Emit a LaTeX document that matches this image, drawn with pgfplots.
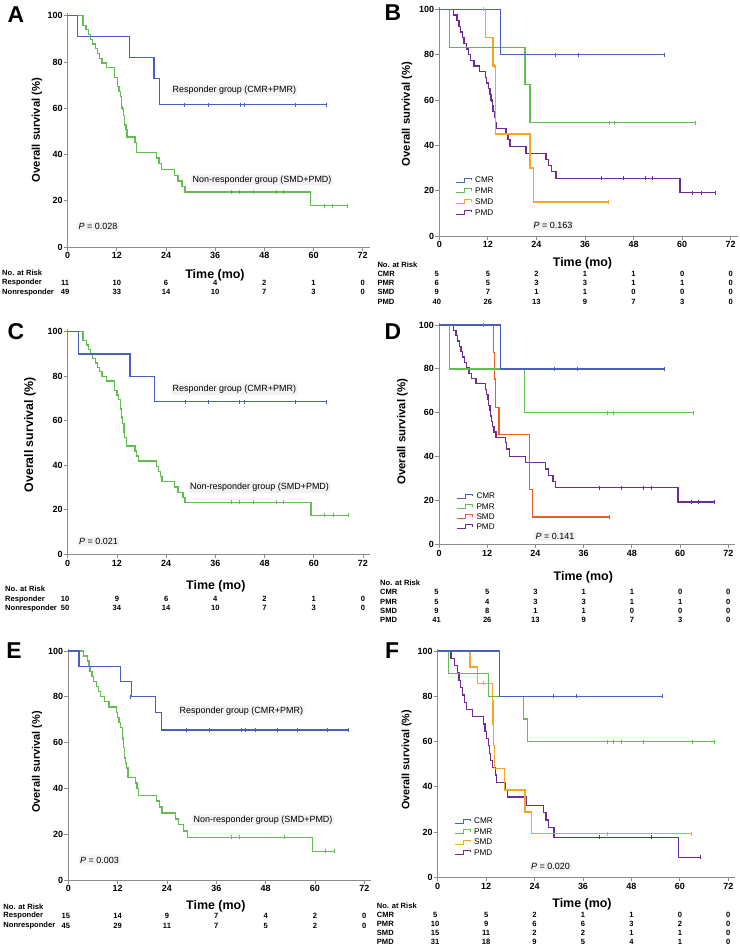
\documentclass[border=0pt]{standalone}
\usepackage{pgfplots}
\pgfplotsset{compat=1.18}
\usepackage{fontspec}
\setmainfont{Liberation Sans}
\definecolor{cblue}{RGB}{74,96,191}
\definecolor{cgreen}{RGB}{98,190,80}
\definecolor{corange}{RGB}{245,166,35}
\definecolor{cred}{RGB}{232,96,40}
\definecolor{cpurple}{RGB}{110,45,150}
\definecolor{axgray}{RGB}{140,140,140}
\newcommand\ticfont{\bfseries\fontsize{9}{10}\selectfont}
\pgfplotsset{
  km/.style={anchor=south west, xmin=0, xmax=73.7, ymin=0, ymax=101,
    axis lines=left, axis line style={-, draw=axgray, line width=0.8bp},
    xtick={0,12,...,72}, ytick={0,20,...,100},
    tick align=outside, major tick length=4bp,
    tick style={draw=axgray, line width=0.8bp},
    ticklabel style={font=\ticfont, text=black},
    yticklabel style={inner sep=1bp},
    xticklabel style={inner sep=1.5bp},
    /pgf/number format/assume math mode=true,
    clip=false},
  kml/.style={const plot mark left, line width=1.3bp, mark=none},
  cens/.style={only marks, mark=|, mark size=2bp, mark options={line width=0.6bp}},
}
\tikzset{
  risk/.style={font=\bfseries\fontsize{7.6}{8}\selectfont, inner sep=0pt},
  ann/.style={font=\fontsize{9}{10}\selectfont, fill=black!5, rounded corners=2bp, inner sep=1.5bp, anchor=west},
  letter/.style={font=\bfseries\fontsize{23}{23}\selectfont, inner sep=0pt},
  ylab/.style={font=\bfseries\fontsize{11.3}{12}\selectfont, rotate=90, inner sep=0pt},
  xlab/.style={font=\bfseries\fontsize{12.5}{13}\selectfont, inner sep=0pt},
  leg/.style={font=\fontsize{8.2}{9}\selectfont, anchor=west, inner sep=0pt},
}
\newcommand\riskrow[9]{%
  \node[risk,anchor=west] at (\lx bp,-#1bp) {#2};
  \node[risk] at (\xz bp-2.5bp,-#1bp) {#3};
  \node[risk] at (\xz bp+\cw bp,-#1bp) {#4};
  \node[risk] at (\xz bp+2*\cw bp,-#1bp) {#5};
  \node[risk] at (\xz bp+3*\cw bp,-#1bp) {#6};
  \node[risk] at (\xz bp+4*\cw bp,-#1bp) {#7};
  \node[risk] at (\xz bp+5*\cw bp,-#1bp) {#8};
  \node[risk] at (\xz bp+6*\cw bp,-#1bp) {#9};
}
\newcommand\legitem[4]{%
  \draw[#3, line width=1bp] (#1bp,-#2bp-2bp) -- ++(8bp,0) -- ++(0,4bp) -- ++(7.5bp,0) -- ++(0,-2bp);
  \node[leg] at (#1bp+19bp,-#2bp) {#4};
}
\begin{document}
\begin{tikzpicture}
%%%%%%%%%%%%%%%% A
\begin{axis}[km, at={(67.7bp,-247bp)}, x=4.097bp, y=2.313bp]
\addplot[kml, cgreen] coordinates {(0,100)(3.7,95.9)(4.5,93.9)(5.0,91.8)(5.6,89.8)(6.1,87.8)(6.7,85.7)(7.2,83.7)(7.8,81.6)(8.4,79.6)(9.5,77.6)(11.4,73.4)(12.1,69.4)(12.5,67.3)(12.9,65.2)(13.2,60.0)(13.6,57.0)(13.8,52.8)(14.2,50.7)(14.5,47.5)(16.4,45.3)(16.8,40.8)(21.6,38.5)(22.3,36.1)(22.9,33.4)(26.0,31.0)(26.9,28.6)(27.9,26.2)(28.6,23.8)(59.3,17.9)(68.3,17.9)};
\addplot[cens, cgreen] coordinates {(13.4,60.0)(39.9,23.8)(41.9,23.8)(45.3,23.8)(50.9,23.8)(52.6,23.8)(62.6,17.9)(64.7,17.9)(68.3,17.9)};
\addplot[kml, cblue] coordinates {(0,100)(2.4,90.9)(15.1,81.8)(21.1,72.7)(22.4,61.5)(63.2,61.5)};
\addplot[cens, cblue] coordinates {(28.5,61.5)(34.2,61.5)(42.1,61.5)(43.1,61.5)(55.6,61.5)(63.2,61.5)};
\end{axis}
\node[letter] at (16bp,-15bp) {A};
\node[ylab] at (37bp,-130bp) {Overall survival (\%)};
\node[xlab] at (215bp,-275bp) {Time (mo)};
\node[ann] at (171bp,-90bp) {Responder group (CMR+PMR)};
\node[ann] at (191bp,-180bp) {Non-responder group (SMD+PMD)};
\node[ann] at (77bp,-226.7bp) {\textit{P} = 0.028};
\def\xz{67.7}\def\cw{49.16}\def\lx{2}
\node[risk,anchor=west] at (2bp,-273bp) {No. at Risk};
\riskrow{283}{Responder}{11}{10}{6}{4}{2}{1}{0}
\riskrow{292.3}{Nonresponder}{49}{33}{14}{10}{7}{3}{0}
%%%%%%%%%%%%%%%% B
\begin{axis}[km, at={(439.3bp,-236bp)}, x=4.047bp, y=2.267bp]
\addplot[kml, cpurple] coordinates {(0,100)(3.5,97.5)(4.4,95)(4.9,92.5)(5.3,90)(5.7,87.5)(6.1,85)(6.7,82.5)(7.2,80)(7.7,77.5)(8.6,75)(10.0,72.5)(11.4,70)(11.7,67.5)(12.2,65)(12.5,62.5)(12.8,60)(13.1,57.5)(13.3,55)(13.6,52.5)(13.8,50)(14.2,47.5)(16.5,45)(17.0,42.5)(17.5,39.4)(21.4,36.5)(26.4,33.9)(26.9,31.2)(27.8,28.5)(28.8,25.5)(59.5,19.1)(68.1,19.1)};
\addplot[cens, cpurple] coordinates {(12.9,60)(40.1,25.5)(45.5,25.5)(50.9,25.5)(52.7,25.5)(62.6,19.1)(64.7,19.1)(68.1,19.1)};
\addplot[kml, corange] coordinates {(0,100)(11.4,87.5)(13.3,75)(13.8,45)(22.4,30)(23.2,15)(41.8,15)};
\addplot[cens, corange] coordinates {(10.9,100)(13.5,75)(41.8,15)};
\addplot[kml, cgreen] coordinates {(0,100)(2.5,83.3)(21.2,66.7)(22.4,50)(63.3,50)};
\addplot[cens, cgreen] coordinates {(42.1,50)(43.2,50)(63.3,50)};
\addplot[kml, cblue] coordinates {(0,100)(15.2,80)(55.7,80)};
\addplot[cens, cblue] coordinates {(28.7,80)(34.3,80)(55.7,80)};
\end{axis}
\node[letter] at (393bp,-13bp) {B};
\node[ylab] at (407bp,-114bp) {Overall survival (\%)};
\node[xlab] at (582.5bp,-263bp) {Time (mo)};
\legitem{456}{180}{cblue}{CMR}
\legitem{456}{190.7}{cgreen}{PMR}
\legitem{456}{201.7}{corange}{SMD}
\legitem{456}{212.3}{cpurple}{PMD}
\node[ann] at (532bp,-225.7bp) {\textit{P} = 0.163};
\def\xz{439.3}\def\cw{48.57}\def\lx{377.3}
\node[risk,anchor=west] at (377.3bp,-265bp) {No. at Risk};
\riskrow{274.3}{CMR}{5}{5}{2}{1}{1}{0}{0}
\riskrow{283.3}{PMR}{6}{5}{3}{3}{1}{1}{0}
\riskrow{292.3}{SMD}{9}{7}{1}{1}{0}{0}{0}
\riskrow{302.3}{PMD}{40}{26}{13}{9}{7}{3}{0}
%%%%%%%%%%%%%%%% C
\begin{axis}[km, at={(67.7bp,-554.3bp)}, x=4.101bp, y=2.226bp]
\addplot[kml, cgreen] coordinates {(0,100)(3.7,96)(4.5,94)(5.0,92)(5.6,90)(6.1,88)(6.7,86)(7.2,84)(7.8,82)(8.4,80)(9.5,77.8)(11.4,73.7)(12.0,71.6)(12.4,69.5)(12.8,65.3)(13.1,61.1)(13.4,58.9)(13.7,54.7)(13.9,52.6)(14.3,48.6)(16.4,46.4)(16.8,44.2)(17.3,41.9)(21.6,39.6)(22.2,37.3)(22.7,34.9)(23.0,32.6)(26.0,30.2)(26.9,27.9)(28.1,25.6)(28.6,23.3)(59.3,17.5)(68.3,17.5)};
\addplot[cens, cgreen] coordinates {(13.2,61.1)(39.9,23.3)(41.9,23.3)(45.3,23.3)(50.9,23.3)(52.6,23.3)(62.6,17.5)(64.7,17.5)(68.3,17.5)};
\addplot[kml, cblue] coordinates {(0,100)(2.6,90)(15.2,80)(21.2,68.6)(63.1,68.6)};
\addplot[cens, cblue] coordinates {(28.6,68.6)(34.3,68.6)(41.8,68.6)(43.0,68.6)(55.4,68.6)(63.1,68.6)};
\end{axis}
\node[letter] at (16bp,-332bp) {C};
\node[ylab, font=\bfseries\fontsize{12.4}{13}\selectfont] at (30bp,-435bp) {Overall survival (\%)};
\node[xlab] at (215.8bp,-586.7bp) {Time (mo)};
\node[ann] at (171bp,-389.3bp) {Responder group (CMR+PMR)};
\node[ann] at (188.5bp,-487.3bp) {Non-responder group (SMD+PMD)};
\node[ann] at (77.5bp,-541.7bp) {\textit{P} = 0.021};
\def\xz{67.7}\def\cw{49.21}\def\lx{5}
\node[risk,anchor=west] at (5bp,-588.3bp) {No. at Risk};
\riskrow{599.3}{Responder}{10}{9}{6}{4}{2}{1}{0}
\riskrow{608.3}{Nonresponder}{50}{34}{14}{10}{7}{3}{0}
%%%%%%%%%%%%%%%% D
\begin{axis}[km, at={(439bp,-544.3bp)}, x=4.018bp, y=2.193bp]
\addplot[kml, cpurple] coordinates {(0,100)(3.57,97.6)(4.23,95.1)(4.64,92.7)(5.06,90.2)(5.47,87.8)(5.89,85.4)(6.30,82.9)(6.88,80.5)(7.46,78.0)(8.04,75.6)(9.2,73.2)(11.5,70.7)(11.9,68.3)(12.2,65.9)(12.4,63.4)(12.7,61.0)(12.85,58.5)(13.1,56.1)(13.35,53.7)(13.7,51.2)(14.2,48.8)(16.5,46.3)(16.8,43.4)(17.5,40.0)(21.6,37.2)(26.5,34.3)(27.2,31.4)(28.4,28.6)(29.0,25.8)(59.5,19.3)(68.5,19.3)};
\addplot[cens, cpurple] coordinates {(40.0,25.8)(45.3,25.8)(50.8,25.8)(52.8,25.8)(62.7,19.3)(64.6,19.3)(68.5,19.3)};
\addplot[kml, cred] coordinates {(0,100)(13.5,87.5)(13.8,75)(14.0,62.5)(14.9,50)(22.5,25)(23.2,12.5)(42.3,12.5)};
\addplot[cens, cred] coordinates {(10.9,100)(13.9,75)(42.3,12.5)};
\addplot[kml, cgreen] coordinates {(0,100)(2.6,80)(21.2,60)(63.4,60)};
\addplot[cens, cgreen] coordinates {(41.9,60)(43.4,60)(63.4,60)};
\addplot[kml, cblue] coordinates {(0,100)(15.3,80)(56.0,80)};
\addplot[cens, cblue] coordinates {(28.7,80)(34.4,80)(56.0,80)};
\end{axis}
\node[letter] at (393bp,-332bp) {D};
\node[ylab, font=\bfseries\fontsize{11.5}{12}\selectfont] at (402.3bp,-431.7bp) {Overall survival (\%)};
\node[xlab] at (583.3bp,-577.7bp) {Time (mo)};
\legitem{457.3}{496}{cblue}{CMR}
\legitem{457.3}{506.7}{cgreen}{PMR}
\legitem{457.3}{516.7}{cred}{SMD}
\legitem{457.3}{526.7}{cpurple}{PMD}
\node[ann] at (534bp,-536bp) {\textit{P} = 0.141};
\def\xz{439}\def\cw{48.22}\def\lx{380}
\node[risk,anchor=west] at (380bp,-582.7bp) {No. at Risk};
\riskrow{592.3}{CMR}{5}{5}{3}{1}{1}{0}{0}
\riskrow{601.7}{PMR}{5}{4}{3}{3}{1}{1}{0}
\riskrow{610.7}{SMD}{9}{8}{1}{1}{0}{0}{0}
\riskrow{620}{PMD}{41}{26}{13}{9}{7}{3}{0}
%%%%%%%%%%%%%%%% E
\begin{axis}[km, at={(68.3bp,-880bp)}, x=4.111bp, y=2.29bp]
\addplot[kml, cgreen] coordinates {(0,100)(3.65,97.8)(4.6,95.6)(5.0,93.3)(5.3,91.1)(5.8,88.9)(6.2,86.7)(6.8,84.4)(7.4,82.2)(7.9,80)(8.8,77.8)(9.9,75.6)(11.7,73.3)(11.9,71.1)(12.3,68.9)(12.7,66.7)(13.1,62.2)(13.4,57.8)(13.6,53.3)(13.9,51.1)(14.2,48.9)(14.5,44.9)(16.4,42.4)(16.7,39.9)(17.1,37.0)(21.5,34.5)(22.1,31.9)(22.8,29.2)(26.1,26.7)(26.8,24.1)(28.0,21.4)(29.0,18.7)(59.4,12.5)(64.6,12.5)};
\addplot[cens, cgreen] coordinates {(13.2,62.2)(39.6,18.7)(41.6,18.7)(52.6,18.7)(62.6,12.5)(64.6,12.5)};
\addplot[kml, cblue] coordinates {(0,100)(2.6,93.3)(12.7,86.7)(15.4,80)(21.2,73.3)(22.6,65.5)(68.1,65.5)};
\addplot[cens, cblue] coordinates {(15.2,80)(28.6,65.5)(34.3,65.5)(42.0,65.5)(43.1,65.5)(45.5,65.5)(50.8,65.5)(55.6,65.5)(63.0,65.5)(68.1,65.5)};
\end{axis}
\node[letter] at (14bp,-651bp) {E};
\node[ylab, font=\bfseries\fontsize{11}{12}\selectfont] at (37bp,-762bp) {Overall survival (\%)};
\node[xlab] at (215.8bp,-906.7bp) {Time (mo)};
\node[ann] at (178bp,-711bp) {Responder group (CMR+PMR)};
\node[ann] at (192bp,-820bp) {Non-responder group (SMD+PMD)};
\node[ann] at (78.5bp,-860bp) {\textit{P} = 0.003};
\def\xz{68.3}\def\cw{49.33}\def\lx{3.3}
\node[risk,anchor=west] at (3.3bp,-906.7bp) {No. at Risk};
\riskrow{916}{Responder}{15}{14}{9}{7}{4}{2}{0}
\riskrow{925.7}{Nonresponder}{45}{29}{11}{7}{5}{2}{0}
%%%%%%%%%%%%%%%% F
\begin{axis}[km, at={(437.7bp,-877.3bp)}, x=4.036bp, y=2.263bp]
\addplot[kml, cpurple] coordinates {(0,100)(3.3,96.8)(4.1,93.5)(4.9,90.3)(5.3,87.1)(5.7,83.9)(6.1,80.6)(6.7,77.4)(7.1,74.2)(8.6,71.0)(11.3,67.7)(11.7,64.5)(12.1,61.3)(12.6,58.1)(12.8,54.8)(13.1,51.6)(13.5,48.4)(14.3,45.2)(14.6,42.0)(16.8,38.8)(17.3,35.5)(22.0,31.7)(26.2,28.5)(26.8,25.3)(27.4,22.0)(28.8,17.6)(59.6,8.8)(65.0,8.8)};
\addplot[cens, cpurple] coordinates {(40.0,17.6)(52.8,17.6)(65.0,8.8)};
\addplot[kml, corange] coordinates {(0,100)(8.0,92.9)(9.8,85.7)(13.5,77.9)(13.7,67.5)(13.9,58.4)(14.1,48.2)(16.6,38.6)(21.6,28.9)(23.3,19.3)(62.9,19.3)};
\addplot[cens, corange] coordinates {(11.2,85.7)(41.9,19.3)(62.9,19.3)};
\addplot[kml, cgreen] coordinates {(0,100)(2.6,90)(12.6,80)(21.2,70)(22.3,60)(68.5,60)};
\addplot[cens, cgreen] coordinates {(42.1,60)(43.4,60)(45.6,60)(51.0,60)(63.2,60)(68.5,60)};
\addplot[kml, cblue] coordinates {(0,100)(15.3,80)(55.7,80)};
\addplot[cens, cblue] coordinates {(28.7,80)(34.4,80)(55.7,80)};
\end{axis}
\node[letter] at (392bp,-651bp) {F};
\node[ylab, font=\bfseries\fontsize{10.8}{12}\selectfont] at (406.7bp,-760bp) {Overall survival (\%)};
\node[xlab] at (582bp,-904.3bp) {Time (mo)};
\legitem{455}{821}{cblue}{CMR}
\legitem{455}{831.7}{cgreen}{PMR}
\legitem{455}{842}{corange}{SMD}
\legitem{455}{852.3}{cpurple}{PMD}
\node[ann] at (529.5bp,-866.7bp) {\textit{P} = 0.020};
\def\xz{437.7}\def\cw{48.43}\def\lx{376.7}
\node[risk,anchor=west] at (376.7bp,-905.7bp) {No. at Risk};
\riskrow{915}{CMR}{5}{5}{2}{1}{1}{0}{0}
\riskrow{924}{PMR}{10}{9}{6}{6}{3}{2}{0}
\riskrow{932.7}{SMD}{15}{11}{2}{2}{1}{1}{0}
\riskrow{942}{PMD}{31}{18}{9}{5}{4}{1}{0}
\pgfresetboundingbox
\path[use as bounding box] (0,0) rectangle (740bp,-950bp);
\end{tikzpicture}
\end{document}
